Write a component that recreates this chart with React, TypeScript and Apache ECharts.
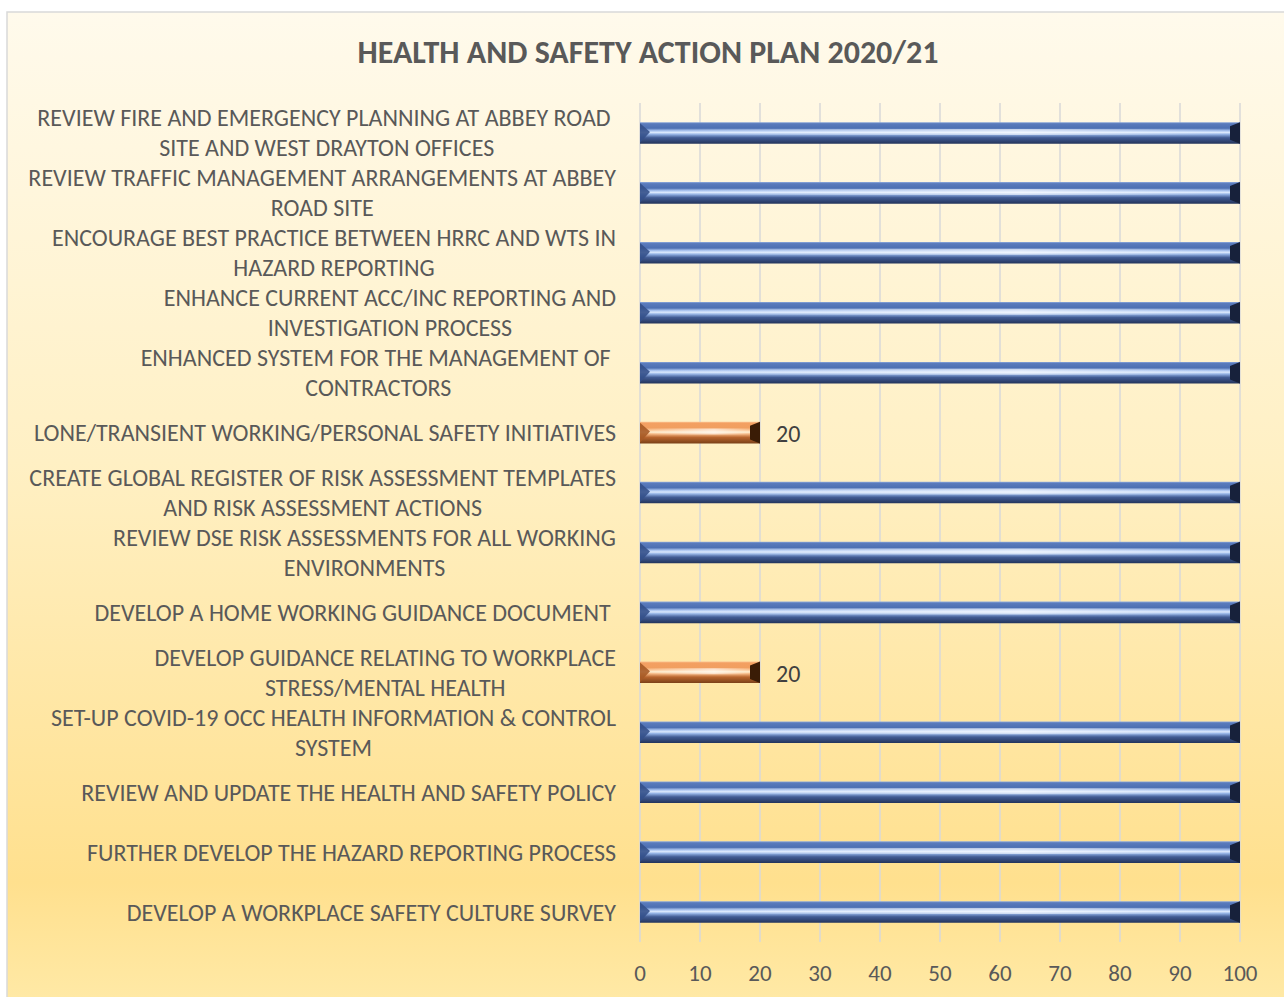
import React, { useEffect, useRef } from "react";
import * as echarts from "echarts";

const titleText = "HEALTH AND SAFETY ACTION PLAN 2020/21";

const categories: string[] = [
  "REVIEW FIRE AND EMERGENCY PLANNING AT ABBEY ROAD \nSITE AND WEST DRAYTON OFFICES",
  "REVIEW TRAFFIC MANAGEMENT ARRANGEMENTS AT ABBEY\nROAD SITE",
  "ENCOURAGE BEST PRACTICE BETWEEN HRRC AND WTS IN\nHAZARD REPORTING",
  "ENHANCE CURRENT ACC/INC REPORTING AND\nINVESTIGATION PROCESS",
  "ENHANCED SYSTEM FOR THE MANAGEMENT OF \nCONTRACTORS",
  "LONE/TRANSIENT WORKING/PERSONAL SAFETY INITIATIVES",
  "CREATE GLOBAL REGISTER OF RISK ASSESSMENT TEMPLATES\nAND RISK ASSESSMENT ACTIONS",
  "REVIEW DSE RISK ASSESSMENTS FOR ALL WORKING\nENVIRONMENTS",
  "DEVELOP A HOME WORKING GUIDANCE DOCUMENT ",
  "DEVELOP GUIDANCE RELATING TO WORKPLACE\nSTRESS/MENTAL HEALTH",
  "SET-UP COVID-19 OCC HEALTH INFORMATION & CONTROL\nSYSTEM",
  "REVIEW AND UPDATE THE HEALTH AND SAFETY POLICY",
  "FURTHER DEVELOP THE HAZARD REPORTING PROCESS",
  "DEVELOP A WORKPLACE SAFETY CULTURE SURVEY",
];

const progress: number[] = [100, 100, 100, 100, 100, 20, 100, 100, 100, 20, 100, 100, 100, 100];

const xTicks = { min: 0, max: 100, interval: 10 };

const FONT = "Carlito, Calibri, Lato, sans-serif";

const BLUE = {
  face: [
    [0, "#8eaadc"], [0.07, "#5a7bbc"], [0.28, "#4d70b3"], [0.4, "#aac4f0"],
    [0.48, "#dae8fd"], [0.56, "#94b3e6"], [0.72, "#425c94"], [1, "#23345b"],
  ],
  left: "#34508a",
  right: "#17213b",
};
const ORANGE = {
  face: [
    [0, "#fbc08e"], [0.07, "#f3a062"], [0.28, "#f19f60"], [0.4, "#fdcc9e"],
    [0.48, "#fff0d2"], [0.56, "#f6b884"], [0.72, "#b8652e"], [1, "#7a4018"],
  ],
  left: "#a65a26",
  right: "#3a1c06",
};

function grad(stops: any[]) {
  return new echarts.graphic.LinearGradient(0, 0, 0, 1,
    stops.map(([offset, color]) => ({ offset, color })));
}

export default function App() {
  const ref = useRef<HTMLDivElement>(null);
  useEffect(() => {
    if (!ref.current) return;
    const chart = echarts.init(ref.current, null, { renderer: "svg" });
    const data = progress.map((v, i) => [v, i]);
    chart.setOption({
      animation: false,
      backgroundColor: "#ffffff",
      graphic: [
        {
          type: "rect",
          z: -10,
          silent: true,
          shape: { x: 7, y: 12, width: 1300, height: 1000 },
          style: {
            fill: new echarts.graphic.LinearGradient(0, 0, 0, 1, [
              { offset: 0, color: "#fffaec" },
              { offset: 0.45, color: "#fff0c4" },
              { offset: 0.87, color: "#ffe08e" },
              { offset: 1, color: "#ffeaa8" },
            ]),
            stroke: "#d9d9d9",
            lineWidth: 1.5,
          },
        },
      ],
      title: {
        text: titleText,
        left: 643,
        top: 31,
        textAlign: "center",
        textStyle: { fontFamily: FONT, fontSize: 32, fontWeight: "bold", color: "#595959" },
      },
      grid: { left: 640, right: 44, top: 103, bottom: 55, containLabel: false },
      xAxis: {
        type: "value",
        min: xTicks.min,
        max: xTicks.max,
        interval: xTicks.interval,
        axisLine: { show: false },
        axisTick: { show: false },
        axisLabel: { fontFamily: FONT, fontSize: 23, color: "#595959", margin: 19 },
        splitLine: { show: true, lineStyle: { color: "#d9d9d9", width: 1.5 } },
      },
      yAxis: {
        type: "category",
        data: categories,
        inverse: true,
        axisLine: { show: false },
        axisTick: { show: false },
        axisLabel: {
          margin: 24,
          align: "right",
          formatter: (v: string) => v.split("\n").map((l) => `{c|${l}}`).join("\n"),
          rich: {
            c: { align: "center", fontFamily: FONT, fontSize: 24, color: "#595959", lineHeight: 30 },
          },
        },
      },
      series: [
        {
          type: "custom",
          encode: { x: 0, y: 1 },
          data,
          renderItem: (params: any, api: any) => {
            const v = api.value(0);
            const c = api.value(1);
            const s = api.coord([0, c]);
            const e = api.coord([v, c]);
            const h = api.size([0, 1])[1] * 0.36;
            const x0 = s[0];
            const x1 = e[0];
            const yc = s[1];
            const y0 = yc - h / 2;
            const y1 = yc + h / 2;
            const b = 10;
            const bv = 4;
            const pal = v >= 100 ? BLUE : ORANGE;
            const children: any[] = [
              { type: "rect", shape: { x: x0, y: y0, width: x1 - x0, height: h }, style: { fill: grad(pal.face) } },
              {
                type: "rect",
                shape: { x: x0 + b, y: yc - 4, width: Math.max(0, x1 - x0 - 2 * b), height: 6 },
                style: {
                  fill: new echarts.graphic.LinearGradient(0, 0, 1, 0, [
                    { offset: 0, color: "rgba(255,255,255,0)" },
                    { offset: 0.64, color: "rgba(255,255,255,0.6)" },
                    { offset: 1, color: "rgba(255,255,255,0)" },
                  ]),
                },
              },
              {
                type: "polygon",
                shape: { points: [[x0, y0 + 1], [x0 + b, yc - 1], [x0, y1 - 1]] },
                style: { fill: pal.left, opacity: 0.9 },
              },
              {
                type: "polygon",
                shape: { points: [[x1, y0], [x1 - b, y0 + bv], [x1 - b, y1 - bv], [x1, y1]] },
                style: { fill: pal.right },
              },
            ];
            if (v < 100) {
              children.push({
                type: "text",
                style: {
                  x: x1 + 16,
                  y: yc + 1,
                  text: String(v),
                  fill: "#404040",
                  fontFamily: FONT,
                  fontSize: 24,
                  verticalAlign: "middle",
                  align: "left",
                },
              });
            }
            return { type: "group", children };
          },
        },
      ],
    });
    return () => chart.dispose();
  }, []);
  return (
    <div
      ref={ref}
      style={{ position: "absolute", left: 0, top: 0, width: 1284, height: 997 }}
    />
  );
}
